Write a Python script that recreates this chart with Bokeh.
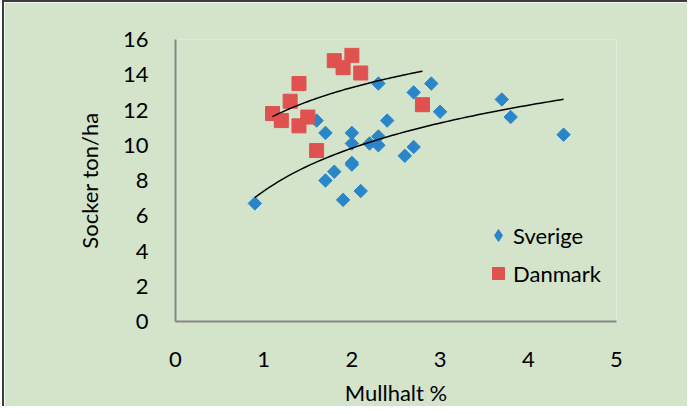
import numpy as np
from bokeh.plotting import figure
from bokeh.models import FixedTicker, Legend, LegendItem, Column
from bokeh.embed import file_html
from bokeh.resources import INLINE

# Data
sverige_x = [0.9, 1.6, 1.7, 2.0, 2.0, 2.2, 2.3, 2.3, 2.4, 2.0, 2.0, 1.8, 1.7, 1.9, 2.1,
             2.6, 2.7, 2.3, 2.7, 2.9, 3.0, 3.7, 3.8, 4.4]
sverige_y = [6.7, 11.4, 10.7, 10.7, 10.1, 10.1, 10.5, 10.0, 11.4, 9.0, 8.9, 8.5, 8.0, 6.9, 7.4,
             9.4, 9.9, 13.5, 13.0, 13.5, 11.9, 12.6, 11.6, 10.6]
danmark_x = [1.1, 1.2, 1.3, 1.4, 1.4, 1.5, 1.6, 1.8, 1.9, 2.0, 2.1, 2.8]
danmark_y = [11.8, 11.4, 12.5, 13.5, 11.1, 11.6, 9.7, 14.8, 14.4, 15.1, 14.1, 12.3]
x_ticks = [0, 1, 2, 3, 4, 5]
y_ticks = [0, 2, 4, 6, 8, 10, 12, 14, 16]
series_names = ["Sverige", "Danmark"]
x_title = "Mullhalt %"
y_title = "Socker ton/ha"

BG = "#D3E4CB"
BLUE = "#2A86C8"
RED = "#E0524F"
AXIS = "#868686"
FONT = "Lato"


def log_trend(xs, ys, n=80):
    xs = np.asarray(xs, float)
    ys = np.asarray(ys, float)
    a, b = np.polyfit(np.log(xs), ys, 1)
    xx = np.linspace(xs.min(), xs.max(), n)
    return xx, a * np.log(xx) + b


p = figure(width=683, height=404, x_range=(x_ticks[0], x_ticks[-1]),
           y_range=(y_ticks[0], y_ticks[-1]),
           output_backend="svg", toolbar_location=None,
           min_border_left=171, min_border_right=73, min_border_top=37, min_border_bottom=87,
           background_fill_color=BG, border_fill_color=BG, outline_line_color=None)
p.styles = {"border-top": "2px solid #3c3c3c", "border-left": "2px solid #3c3c3c"}
p.grid.visible = False

for ax in (p.xaxis[0], p.yaxis[0]):
    ax.axis_line_color = AXIS
    ax.axis_line_width = 2
    ax.major_tick_line_color = None
    ax.minor_tick_line_color = None
    ax.major_tick_out = 0
    ax.major_tick_in = 0
    ax.major_label_text_font = FONT
    ax.major_label_text_font_size = "22px"
    ax.major_label_text_color = "#000000"
    ax.axis_label_text_font = FONT
    ax.axis_label_text_font_size = "22px"
    ax.axis_label_text_font_style = "normal"
    ax.axis_label_text_color = "#000000"

p.xaxis.ticker = FixedTicker(ticks=x_ticks)
p.yaxis.ticker = FixedTicker(ticks=y_ticks)
p.xaxis.axis_label = x_title
p.yaxis.axis_label = y_title
p.yaxis.major_label_standoff = 27
p.xaxis.major_label_standoff = 30
p.yaxis.axis_label_standoff = 17
p.xaxis.axis_label_standoff = 9

sx, sy = log_trend(sverige_x, sverige_y)
dx, dy = log_trend(danmark_x, danmark_y)

r_s = p.scatter(sverige_x, sverige_y, marker="square", angle=np.pi / 4, size=9.5,
                fill_color=BLUE, line_color=BLUE)
r_d = p.scatter(danmark_x, danmark_y, marker="square", size=14,
                fill_color=RED, line_color=RED)
p.line(sx, sy, line_color="black", line_width=1.5)
p.line(dx, dy, line_color="black", line_width=1.5)

# legend key for the diamond symbol (legend glyphs are drawn unrotated); it sits
# hidden inside the first Sverige point, which fully covers it
r_s_key = p.scatter(sverige_x[:1], sverige_y[:1], marker="diamond", size=8,
                    fill_color=BLUE, line_color=BLUE)

legend = Legend(items=[LegendItem(label=series_names[0], renderers=[r_s_key]),
                       LegendItem(label=series_names[1], renderers=[r_d])],
                location=(308, 33), margin=0, padding=0, spacing=8,
                glyph_width=30, glyph_height=30, label_height=30, label_standoff=0,
                label_text_font=FONT, label_text_font_size="22px",
                label_text_color="#000000", label_text_baseline="middle",
                border_line_color=None, background_fill_alpha=0)
p.add_layout(legend)

# page wrapper: fills the 695x414 window (cancels the body margin) with the white
# strip above / left of the chart frame, as in the reference
page = Column(children=[p],
              styles={"margin": "-8px", "padding": "8px 0 0 10px",
                      "background-color": "white", "box-sizing": "content-box"})

open("out.html", "w").write(file_html(page, INLINE))
